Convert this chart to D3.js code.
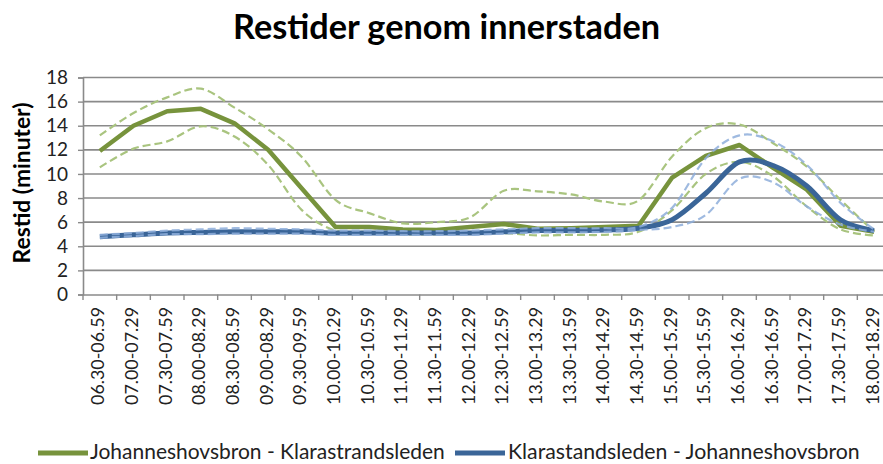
<!DOCTYPE html>
<html><head><meta charset="utf-8">
<script src="https://cdn.jsdelivr.net/npm/d3@7"></script>
<style>body{margin:0;background:#fff;overflow:hidden} svg{display:block}</style>
</head><body><svg id="c" width="883" height="464"></svg>
<script>
const categories = ["06.30-06.59","07.00-07.29","07.30-07.59","08.00-08.29","08.30-08.59","09.00-08.29",
  "09.30-09.59","10.00-10.29","10.30-10.59","11.00-11.29","11.30-11.59","12.00-12.29",
  "12.30-12.59","13.00-13.29","13.30-13.59","14.00-14.29","14.30-14.59","15.00-15.29",
  "15.30-15.59","16.00-16.29","16.30-16.59","17.00-17.29","17.30-17.59","18.00-18.29"];
const seriesNames = ["Johanneshovsbron - Klarastrandsleden", "Klarastandsleden - Johanneshovsbron"];
const greenValues = [11.9,14.0,15.2,15.4,14.2,12.0,8.8,5.6,5.6,5.4,5.35,5.6,5.85,5.45,5.5,5.6,5.7,9.7,11.5,12.4,10.5,8.7,5.7,5.2];
const greenUpper  = [13.2,15.05,16.35,17.07,15.5,13.7,11.4,7.85,6.75,5.9,6.0,6.4,8.6,8.55,8.3,7.7,7.8,11.45,13.8,14.1,12.55,10.6,7.85,5.2];
const greenLower  = [10.55,12.1,12.7,13.95,13.1,10.75,7.0,5.3,5.2,5.0,5.0,5.1,5.1,4.9,4.95,4.95,5.2,7.0,10.0,11.0,9.8,7.3,5.4,4.9];
const blueValues  = [4.8,4.95,5.1,5.15,5.2,5.2,5.2,5.1,5.1,5.1,5.1,5.1,5.2,5.3,5.3,5.35,5.5,6.2,8.4,11.0,10.7,9.0,6.2,5.3];
const blueUpper   = [4.95,5.1,5.3,5.4,5.5,5.45,5.4,5.3,5.3,5.25,5.25,5.3,5.4,5.5,5.5,5.5,5.6,7.2,11.3,13.2,12.7,10.75,7.6,5.4];
const blueLower   = [4.7,4.85,5.0,5.0,5.05,5.05,5.05,4.95,4.95,4.95,4.95,4.95,5.05,5.15,5.15,5.2,5.35,5.6,6.6,9.6,9.3,7.3,5.8,5.2];
const yTicks = [0,2,4,6,8,10,12,14,16,18];
const titleText = "Restider genom innerstaden";
const yTitle = "Restid (minuter)";

const FONT = "Lato, 'Open Sans', sans-serif";
const svg = d3.select("#c");
const x = d3.scaleBand().domain(categories).range([83, 891]);
const y = d3.scaleLinear().domain([0, 18]).range([294.5, 77.5]);

function fit(sel, target) {
  const w = sel.node().getComputedTextLength();
  const fs = parseFloat(sel.attr("font-size"));
  sel.attr("font-size", fs * target / w);
}

// gridlines
svg.append("g").selectAll("line").data(yTicks.filter(d => d > 0)).join("line")
  .attr("x1", 83).attr("x2", 891)
  .attr("y1", d => y(d)).attr("y2", d => y(d))
  .attr("stroke", "#8a8a8a").attr("stroke-width", 1.6);

// y axis
const ya = svg.append("g").attr("transform", "translate(83,0)")
  .call(d3.axisLeft(y).tickValues(yTicks).tickSize(5).tickPadding(10).tickFormat(d3.format("d")));
ya.select(".domain").attr("stroke", "#8a8a8a").attr("stroke-width", 1.6);
ya.selectAll(".tick line").attr("stroke", "#8a8a8a").attr("stroke-width", 1.4);
ya.selectAll(".tick text").attr("font-family", FONT).attr("font-size", 19).attr("fill", "#222");

// x axis
const xa = svg.append("g").attr("transform", "translate(0,294.5)")
  .call(d3.axisBottom(x).tickSize(0).tickPadding(0));
xa.select(".domain").attr("stroke", "#8a8a8a").attr("stroke-width", 1.6);
xa.selectAll(".tick text").remove();
// boundary ticks
const bounds = categories.map(c => x(c)).concat([x(categories[categories.length - 1]) + x.bandwidth()]);
svg.append("g").selectAll("line").data(bounds).join("line")
  .attr("x1", d => d).attr("x2", d => d).attr("y1", 294.5).attr("y2", 300)
  .attr("stroke", "#8a8a8a").attr("stroke-width", 1.4);
const xl = svg.append("g").selectAll("text").data(categories).join("text")
  .attr("transform", d => `translate(${x(d) + x.bandwidth() / 2 + 4.5},307) rotate(-90)`)
  .attr("text-anchor", "end").attr("font-family", FONT).attr("font-size", 18).attr("fill", "#222")
  .text(d => d);
{
  const w = xl.node().getComputedTextLength();
  xl.attr("font-size", 18 * 98 / w);
}

// lines
const line = d3.line().x((d, i) => x(categories[i]) + x.bandwidth() / 2).y(d => y(d));
const smooth = d3.line().x((d, i) => x(categories[i]) + x.bandwidth() / 2).y(d => y(d)).curve(d3.curveCatmullRom.alpha(0));
const g = svg.append("g");
g.append("path").datum(greenUpper).attr("d", smooth).attr("fill", "none").attr("stroke", "#a9c47f").attr("stroke-width", 2.2).attr("stroke-dasharray", "8,4");
g.append("path").datum(greenLower).attr("d", smooth).attr("fill", "none").attr("stroke", "#a9c47f").attr("stroke-width", 2.2).attr("stroke-dasharray", "8,4");
g.append("path").datum(greenValues).attr("d", line).attr("fill", "none").attr("stroke", "#77933c").attr("stroke-width", 4.5).attr("stroke-linejoin", "round");
g.append("path").datum(blueValues).attr("d", smooth).attr("fill", "none").attr("stroke", "#3a6598").attr("stroke-width", 5).attr("stroke-linejoin", "round");
g.append("path").datum(blueUpper).attr("d", smooth).attr("fill", "none").attr("stroke", "#8eaedb").attr("stroke-opacity", 0.85).attr("stroke-width", 2.2).attr("stroke-dasharray", "8,4");
g.append("path").datum(blueLower).attr("d", smooth).attr("fill", "none").attr("stroke", "#8eaedb").attr("stroke-opacity", 0.85).attr("stroke-width", 2.2).attr("stroke-dasharray", "8,4");

// title
const t = svg.append("text").attr("x", 446.5).attr("y", 39).attr("text-anchor", "middle")
  .attr("font-family", FONT).attr("font-weight", "bold").attr("font-size", 28).attr("fill", "#000").text(titleText);
fit(t, 427);

// y title
const yt = svg.append("text").attr("transform", "translate(30,183) rotate(-90)").attr("text-anchor", "middle")
  .attr("font-family", FONT).attr("font-weight", "bold").attr("font-size", 18).attr("fill", "#000").text(yTitle);
fit(yt, 161);

// legend
const legend = [
  { name: seriesNames[0], color: "#77933c", x0: 38, x1: 88, tx: 90, tw: 355 },
  { name: seriesNames[1], color: "#3a6598", x0: 455, x1: 505, tx: 508, tw: 352 }
];
const lg = svg.append("g");
legend.forEach(l => {
  lg.append("line").attr("x1", l.x0).attr("x2", l.x1).attr("y1", 453).attr("y2", 453)
    .attr("stroke", l.color).attr("stroke-width", 5);
  const tt = lg.append("text").attr("x", l.tx).attr("y", 459).attr("font-family", FONT)
    .attr("font-size", 17).attr("fill", "#222").text(l.name);
  fit(tt, l.tw);
});
</script></body></html>
